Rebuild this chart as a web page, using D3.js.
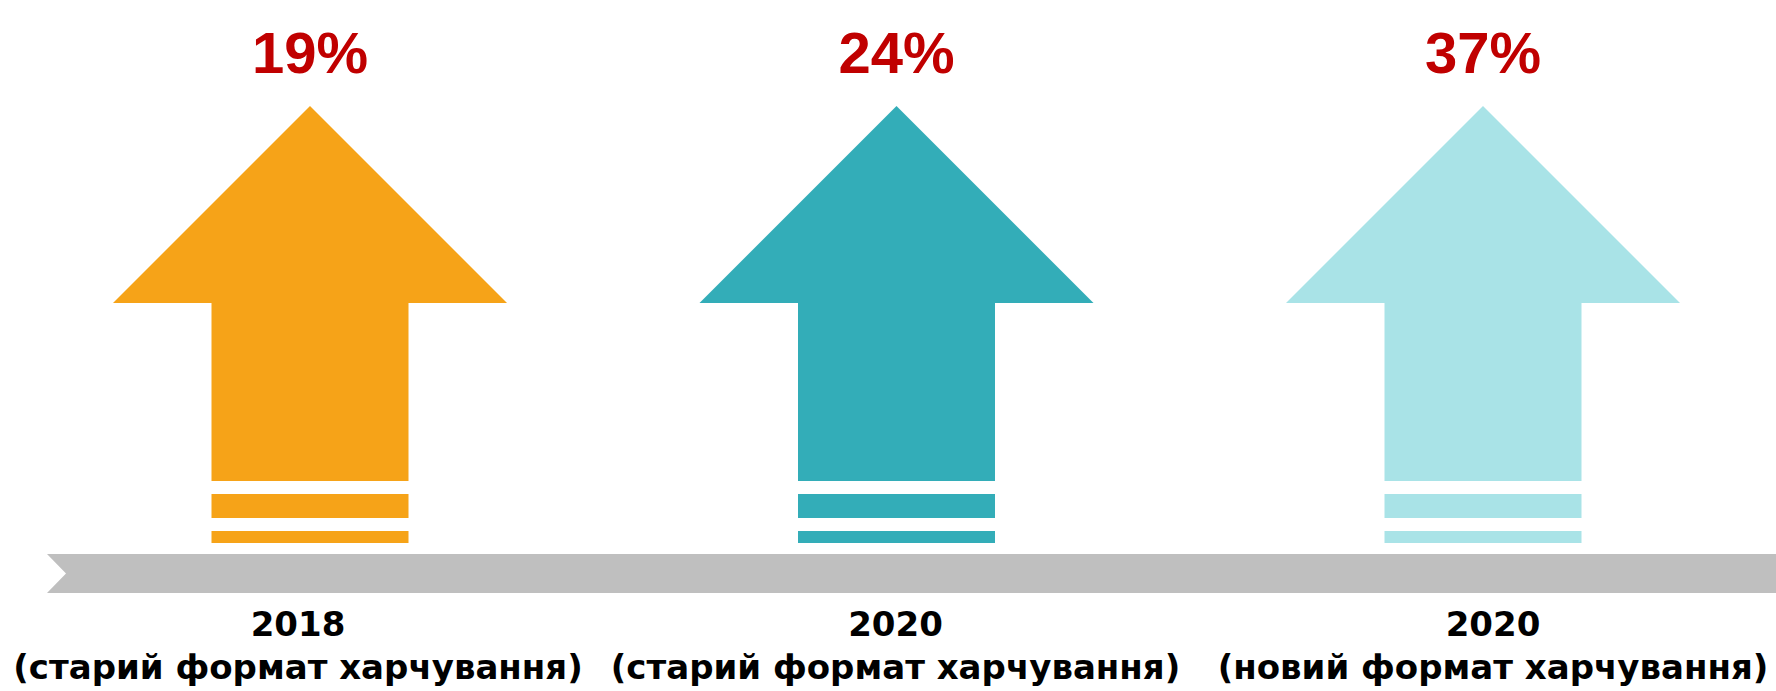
<!DOCTYPE html>
<html>
<head>
<meta charset="utf-8">
<script src="https://cdn.jsdelivr.net/npm/d3@7/dist/d3.min.js"></script>
<style>
  html, body { margin: 0; padding: 0; background: #ffffff; }
  svg { display: block; }
</style>
</head>
<body>
<svg id="chart" width="1776" height="691"></svg>
<script>
// ---- data ----
const categories = ["2018", "2020", "2020"];
const subtitles = ["(старий формат харчування)", "(старий формат харчування)", "(новий формат харчування)"];
const values = [19, 24, 37];
const colors = ["#F6A318", "#33ADB8", "#A9E3E7"];

// ---- layout ----
const W = 1776, H = 691;
const svg = d3.select("#chart");

// column centres for arrows / values and for the caption text boxes
const x = d3.scalePoint().domain(d3.range(categories.length)).range([310, 1483]).padding(0);
const xLabel = d3.scalePoint().domain(d3.range(categories.length)).range([298, 1493]).padding(0);

// arrow geometry (px)
const apexY = 106, wingY = 303, wingHalf = 197, shaftHalf = 98.5, shaftBottom = 481;
const stripes = [[494, 518], [531, 543]];

// timeline bar
const barTop = 554, barBottom = 593, barLeft = 47, notch = 19;
svg.append("path")
  .attr("d", d3.line()([
    [barLeft, barTop], [W + 5, barTop], [W + 5, barBottom], [barLeft, barBottom],
    [barLeft + notch, (barTop + barBottom) / 2]
  ]) + "Z")
  .attr("fill", "#BFBFBF");

const items = categories.map((c, i) => ({ i, cat: c, sub: subtitles[i], v: values[i], color: colors[i] }));

const g = svg.selectAll("g.item").data(items).join("g").attr("class", "item");

g.append("path")
  .attr("d", d => {
    const cx = x(d.i);
    return d3.line()([
      [cx, apexY], [cx + wingHalf, wingY], [cx + shaftHalf, wingY], [cx + shaftHalf, shaftBottom],
      [cx - shaftHalf, shaftBottom], [cx - shaftHalf, wingY], [cx - wingHalf, wingY]
    ]) + "Z";
  })
  .attr("fill", d => d.color);

g.each(function(d) {
  const sel = d3.select(this);
  stripes.forEach(s => {
    sel.append("rect")
      .attr("x", x(d.i) - shaftHalf).attr("y", s[0])
      .attr("width", shaftHalf * 2).attr("height", s[1] - s[0])
      .attr("fill", d.color);
  });
});

g.append("text")
  .attr("x", d => x(d.i)).attr("y", 73)
  .attr("text-anchor", "middle")
  .attr("font-family", "'Liberation Sans', Arial, sans-serif")
  .attr("font-weight", "bold").attr("font-size", 58)
  .attr("fill", "#C00000")
  .text(d => d.v + "%");

g.append("text")
  .attr("x", d => xLabel(d.i)).attr("y", 636)
  .attr("text-anchor", "middle")
  .attr("font-family", "'DejaVu Sans', sans-serif")
  .attr("font-weight", "bold").attr("font-size", 34)
  .attr("fill", "#000")
  .text(d => d.cat);

g.append("text")
  .attr("x", d => xLabel(d.i)).attr("y", 679)
  .attr("text-anchor", "middle")
  .attr("font-family", "'DejaVu Sans', sans-serif")
  .attr("font-weight", "bold").attr("font-size", 34)
  .attr("fill", "#000")
  .text(d => d.sub);
</script>
</body>
</html>
